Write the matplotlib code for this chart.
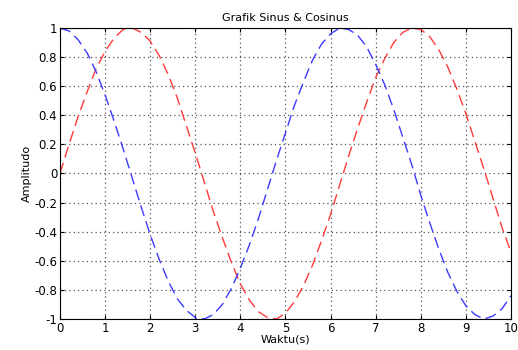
import matplotlib
matplotlib.use('Agg')
import matplotlib.pyplot as plt

# sampled every 0.2 s from 0 to 10
waktu = [round(i * 0.2, 1) for i in range(51)]
sinus = [0.00, 0.20, 0.39, 0.56, 0.72, 0.84, 0.93, 0.99, 1.00, 0.97,
         0.91, 0.81, 0.68, 0.52, 0.33, 0.14, -0.06, -0.26, -0.44, -0.61,
         -0.76, -0.87, -0.95, -0.99, -1.00, -0.96, -0.88, -0.77, -0.63, -0.46,
         -0.28, -0.08, 0.12, 0.31, 0.49, 0.66, 0.79, 0.90, 0.97, 1.00,
         0.99, 0.94, 0.85, 0.73, 0.58, 0.41, 0.22, 0.03, -0.17, -0.37,
         -0.54]
cosinus = [1.00, 0.98, 0.92, 0.83, 0.70, 0.54, 0.36, 0.17, -0.03, -0.23,
           -0.42, -0.59, -0.74, -0.86, -0.94, -0.99, -1.00, -0.97, -0.90, -0.79,
           -0.65, -0.49, -0.31, -0.11, 0.09, 0.28, 0.47, 0.63, 0.78, 0.89,
           0.96, 1.00, 0.99, 0.95, 0.87, 0.75, 0.61, 0.44, 0.25, 0.06,
           -0.15, -0.34, -0.52, -0.68, -0.81, -0.91, -0.97, -1.00, -0.98, -0.93,
           -0.84]

xticks = list(range(0, 11))
yticks = [-1, -0.8, -0.6, -0.4, -0.2, 0, 0.2, 0.4, 0.6, 0.8, 1]
ytick_labels = ['-1', '-0.8', '-0.6', '-0.4', '-0.2', '0', '0.2', '0.4', '0.6', '0.8', '1']

fig = plt.figure(figsize=(5.18, 3.5), dpi=100)
ax = fig.add_axes([0.1158, 0.0886, 0.8707, 0.8314])

ax.plot(waktu, sinus, color='#ff3b3b', linestyle=(0, (8, 4)), linewidth=1.0)
ax.plot(waktu, cosinus, color='#3b3bff', linestyle=(0, (8, 4)), linewidth=1.0)

ax.set_xlim(0, 10)
ax.set_ylim(-1, 1)
ax.set_xticks(xticks)
ax.set_xticklabels([str(t) for t in xticks])
ax.set_yticks(yticks)
ax.set_yticklabels(ytick_labels)
ax.tick_params(direction='in', top=True, right=True, labelsize=8.5, length=3, pad=2)
ax.grid(True, color='#555555', linestyle=(0, (1, 2.5)), linewidth=0.9)

for s in ax.spines.values():
    s.set_linewidth(0.8)

ax.set_title('Grafik Sinus & Cosinus', fontsize=8, pad=5)
ax.set_xlabel('Waktu(s)', fontsize=8, labelpad=0)
ax.set_ylabel('Amplitudo', fontsize=8, labelpad=2)

fig.savefig('out.png', dpi=100)
